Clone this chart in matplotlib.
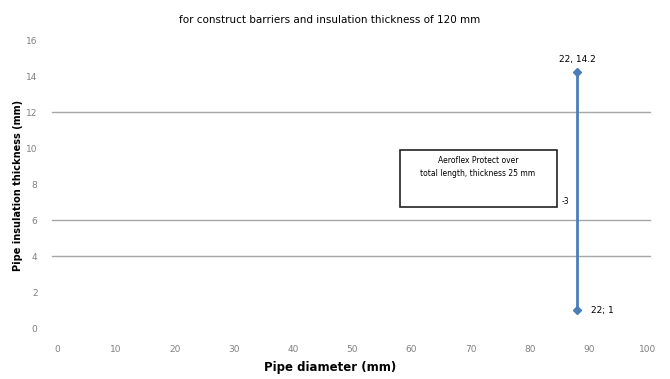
import matplotlib
matplotlib.use("Agg")
import matplotlib.pyplot as plt
from matplotlib.patches import Rectangle

# Data
x_vals = [88, 88]
y_vals = [1, 14.2]
point_labels = ["22; 1", "22, 14.2"]
x_ticks = [0, 10, 20, 30, 40, 50, 60, 70, 80, 90, 100]
y_ticks = [0, 2, 4, 6, 8, 10, 12, 14, 16]
grid_levels = [4, 6, 12]
title = "for construct barriers and insulation thickness of 120 mm"
xlabel = "Pipe diameter (mm)"
ylabel = "Pipe insulation thickness (mm)"
note_lines = "Aeroflex Protect over\ntotal length, thickness 25 mm"

W, H = 670, 379
fig = plt.figure(figsize=(W / 100, H / 100), dpi=100)
ax = fig.add_axes([57 / W, 1 - 328 / H, (648 - 57) / W, (328 - 40) / H])

ax.set_xlim(0, 100)
ax.set_ylim(0, 16)
for s in ax.spines.values():
    s.set_visible(False)

for g in grid_levels:
    ax.axhline(g, xmin=-0.008, xmax=1.003, color="#a6a6a6", lw=1.0, clip_on=False, zorder=1)

ax.plot(x_vals, y_vals, color="#4a7ebb", lw=2, marker="D", markersize=4.5,
        markerfacecolor="#4a7ebb", markeredgecolor="#4a7ebb", zorder=3)

ax.annotate(point_labels[1], (x_vals[1], y_vals[1]), xytext=(0, 6), textcoords="offset points",
            ha="center", va="bottom", fontsize=6.5, color="black")
ax.annotate(point_labels[0], (x_vals[0], y_vals[0]), xytext=(10, 0), textcoords="offset points",
            ha="left", va="center", fontsize=6.5, color="black")

ax.set_xticks(x_ticks)
ax.set_yticks(y_ticks)
ax.tick_params(axis="both", length=0, labelsize=6.5, labelcolor="#808080")
ax.tick_params(axis="x", pad=12)
ax.tick_params(axis="y", pad=14)

fig.text(330 / W, 1 - 20 / H, title, ha="center", va="center", fontsize=7.5, color="black")
fig.text(330 / W, 1 - 368 / H, xlabel, ha="center", va="center", fontsize=8.5,
         fontweight="bold", color="black")
fig.text(18 / W, 1 - 185 / H, ylabel, ha="center", va="center", fontsize=7,
         fontweight="bold", rotation=90, color="black")

rect = Rectangle((400 / W, 1 - 207 / H), (557 - 400) / W, (207 - 150) / H,
                 transform=fig.transFigure, fill=True, facecolor="white",
                 edgecolor="#222222", lw=1.2, zorder=5)
fig.add_artist(rect)
fig.text(478 / W, 1 - 167 / H, note_lines, ha="center", va="center", fontsize=5.5,
         color="black", linespacing=1.6, zorder=6)
fig.text(565 / W, 1 - 201 / H, "-3", ha="center", va="center", fontsize=5.5, color="black")

fig.savefig("out.png", dpi=100, facecolor="white")
